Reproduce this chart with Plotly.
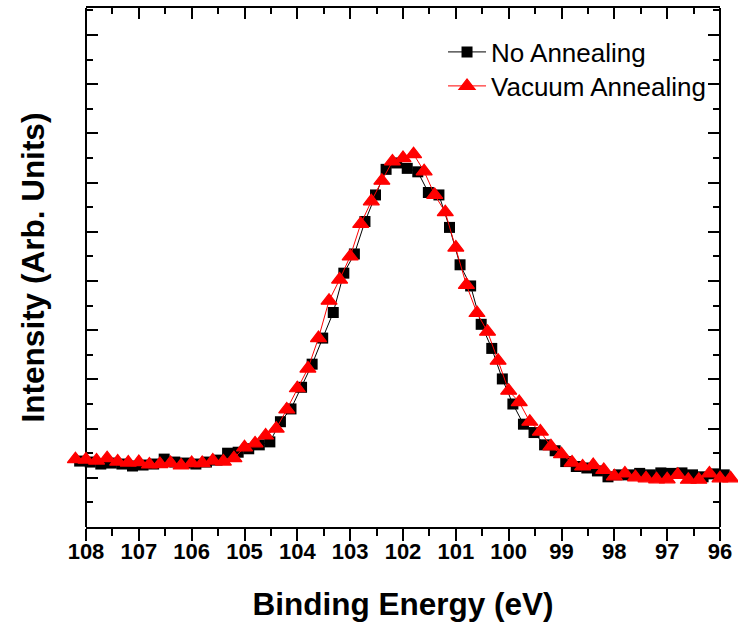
import plotly.graph_objects as go

# ---- data ----
energy_no = [108.12, 107.92, 107.72, 107.52, 107.32, 107.12, 106.92, 106.72, 106.52, 106.32,
             106.12, 105.92, 105.72, 105.52, 105.32, 105.12, 104.92, 104.72, 104.52, 104.32,
             104.12, 103.92, 103.72, 103.52, 103.32, 103.12, 102.92, 102.72, 102.52, 102.32,
             102.12, 101.92, 101.72, 101.52, 101.32, 101.12, 100.92, 100.72, 100.52, 100.32,
             100.12, 99.92, 99.72, 99.52, 99.32, 99.12, 98.92, 98.72, 98.52, 98.32,
             98.12, 97.92, 97.72, 97.52, 97.32, 97.12, 96.92, 96.72, 96.52, 96.32,
             96.12, 95.92]
intensity_no = [1.34, 1.32, 1.28, 1.30, 1.28, 1.24, 1.26, 1.28, 1.38, 1.32,
                1.30, 1.28, 1.32, 1.36, 1.50, 1.52, 1.59, 1.67, 1.73, 2.14,
                2.40, 2.84, 3.31, 3.84, 4.36, 5.16, 5.55, 6.21, 6.75, 7.27,
                7.40, 7.29, 7.22, 6.80, 6.75, 6.09, 5.33, 4.90, 4.12, 3.63,
                3.01, 2.50, 2.09, 1.92, 1.67, 1.55, 1.33, 1.23, 1.20, 1.14,
                1.02, 1.06, 1.06, 1.09, 1.06, 1.10, 1.09, 1.10, 1.06, 1.02,
                1.08, 1.06]

energy_vac = [108.2, 108.0, 107.8, 107.6, 107.4, 107.2, 107.0, 106.8, 106.6, 106.4,
              106.2, 106.0, 105.8, 105.6, 105.4, 105.2, 105.0, 104.8, 104.6, 104.4,
              104.2, 104.0, 103.8, 103.6, 103.4, 103.2, 103.0, 102.8, 102.6, 102.4,
              102.2, 102.0, 101.8, 101.6, 101.4, 101.2, 101.0, 100.8, 100.6, 100.4,
              100.2, 100.0, 99.8, 99.6, 99.4, 99.2, 99.0, 98.8, 98.6, 98.4,
              98.2, 98.0, 97.8, 97.6, 97.4, 97.2, 97.0, 96.8, 96.6, 96.4,
              96.2, 96.0, 95.8]
intensity_vac = [1.38, 1.37, 1.35, 1.40, 1.33, 1.31, 1.32, 1.27, 1.28, 1.30,
                 1.25, 1.30, 1.30, 1.35, 1.33, 1.40, 1.62, 1.70, 1.86, 2.00,
                 2.39, 2.82, 3.22, 3.84, 4.60, 5.03, 5.50, 6.16, 6.62, 7.04,
                 7.43, 7.50, 7.58, 7.23, 6.75, 6.40, 5.68, 4.92, 4.35, 3.97,
                 3.38, 2.77, 2.54, 2.14, 1.94, 1.64, 1.48, 1.31, 1.23, 1.26,
                 1.16, 1.03, 1.09, 1.01, 0.99, 0.97, 0.97, 1.06, 0.96, 0.96,
                 1.09, 0.99, 0.99]

series_names = ["No Annealing", "Vacuum Annealing"]
x_range = [108, 96]
y_range = [0, 10.55]

FONT = "Liberation Sans, Arial, sans-serif"

# layout geometry: the data layer is a bit wider than the axis frame so that
# the end points (108.2 eV, 95.8 eV) are drawn just outside the frame, as in the original
ML, MR = 70, 2
AREA_W = 738 - ML - MR
FRAME_L, FRAME_R = 86, 720
px_per_ev = (FRAME_R - FRAME_L) / (x_range[0] - x_range[1])
dom0 = (FRAME_L - ML) / AREA_W
dom1 = (FRAME_R - ML) / AREA_W
data_range = [x_range[0] + (FRAME_L - ML) / px_per_ev,
              x_range[1] - (ML + AREA_W - FRAME_R) / px_per_ev]

fig = go.Figure()
fig.add_trace(go.Scatter(
    x=energy_no, y=intensity_no, mode="lines+markers", name=series_names[0],
    line=dict(color="#000000", width=1),
    marker=dict(symbol="square", size=11, color="#000000"),
    cliponaxis=False, legend="legend"))
fig.add_trace(go.Scatter(
    x=energy_vac, y=intensity_vac, mode="lines+markers", name=series_names[1],
    line=dict(color="#FF0000", width=1),
    marker=dict(symbol="triangle-up", size=14, color="#FF0000",
                line=dict(color="#FF0000", width=1.2)),
    cliponaxis=False, legend="legend2"))
# helper traces so that the frame axes are drawn
fig.add_trace(go.Scatter(x=[], y=[], xaxis="x2", yaxis="y", showlegend=False, hoverinfo="skip"))
fig.add_trace(go.Scatter(x=[], y=[], xaxis="x3", yaxis="y", showlegend=False, hoverinfo="skip"))
fig.add_trace(go.Scatter(x=[], y=[], xaxis="x", yaxis="y2", showlegend=False, hoverinfo="skip"))

tick_common = dict(tickcolor="black", tickwidth=2, showgrid=False, zeroline=False,
                   automargin=False)

LEG_X = 0.5601

fig.update_layout(
    width=738, height=628,
    margin=dict(l=ML, r=MR, t=8, b=101, autoexpand=False),
    paper_bgcolor="white", plot_bgcolor="rgba(0,0,0,0)",
    font=dict(family=FONT, color="black"),
    showlegend=True,
    legend=dict(x=LEG_X, y=0.9152, xanchor="left", yanchor="middle",
                font=dict(family=FONT, size=26, color="black"),
                bgcolor="rgba(0,0,0,0)", itemwidth=38),
    legend2=dict(x=LEG_X, y=0.8497, xanchor="left", yanchor="middle",
                 font=dict(family=FONT, size=26, color="black"),
                 bgcolor="rgba(0,0,0,0)", itemwidth=38),
    # data x axis (invisible, slightly wider than the frame)
    xaxis=dict(domain=[0, 1], range=data_range, visible=False, anchor="y", automargin=False),
    # bottom frame axis with labels
    xaxis2=dict(
        domain=[dom0, dom1], anchor="y", range=x_range,
        tickmode="linear", tick0=96, dtick=1,
        ticks="outside", ticklen=12, showline=True, linewidth=2, linecolor="black",
        layer="below traces",
        tickfont=dict(family=FONT, size=22, weight="bold", color="black"),
        ticklabelstandoff=-8,
        minor=dict(dtick=0.5, ticks="outside", ticklen=7, tickwidth=2,
                   tickcolor="black", showgrid=False),
        title=dict(text="Binding Energy (eV)",
                   font=dict(family=FONT, size=31.5, weight="bold", color="black"),
                   standoff=30),
        **tick_common,
    ),
    # top frame axis
    xaxis3=dict(
        overlaying="x2", side="top", anchor="y", range=x_range,
        tickmode="linear", tick0=96, dtick=1,
        ticks="inside", ticklen=11, showticklabels=False,
        showline=True, linewidth=2, linecolor="black", layer="below traces",
        minor=dict(dtick=0.5, ticks="inside", ticklen=6, tickwidth=2,
                   tickcolor="black", showgrid=False),
        **tick_common,
    ),
    # left frame axis (also the data y axis)
    yaxis=dict(
        domain=[0, 1], anchor="free", position=dom0, range=y_range,
        tickmode="linear", tick0=0, dtick=1,
        ticks="inside", ticklen=11, showticklabels=False,
        showline=True, linewidth=2, linecolor="black", layer="below traces",
        minor=dict(dtick=0.5, ticks="inside", ticklen=6, tickwidth=2,
                   tickcolor="black", showgrid=False),
        title=dict(text="Intensity (Arb. Units)",
                   font=dict(family=FONT, size=31.5, weight="bold", color="black"),
                   standoff=30),
        **tick_common,
    ),
    # right frame axis
    yaxis2=dict(
        overlaying="y", side="right", anchor="free", position=dom1, range=y_range,
        tickmode="linear", tick0=0, dtick=1,
        ticks="inside", ticklen=11, showticklabels=False,
        showline=True, linewidth=2, linecolor="black", layer="below traces",
        minor=dict(dtick=0.5, ticks="inside", ticklen=6, tickwidth=2,
                   tickcolor="black", showgrid=False),
        **tick_common,
    ),
)

fig.write_html("out.html")
